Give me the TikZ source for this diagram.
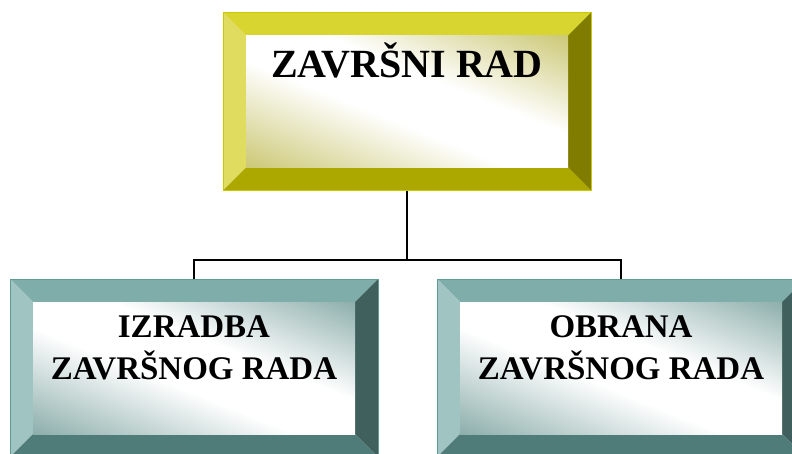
\documentclass[tikz,border=0pt]{standalone}
\usepackage{fontspec}
\setmainfont{Liberation Serif}
\usepackage{tikz}
\usetikzlibrary{positioning,calc}
\definecolor{olivetop}{HTML}{D9D530}
\definecolor{oliveleft}{HTML}{E0DC60}
\definecolor{oliveright}{HTML}{807C00}
\definecolor{olivebottom}{HTML}{ADA800}
\definecolor{oliveline}{HTML}{CCC800}
\definecolor{olivecorner}{HTML}{C9C56E}
\definecolor{tealtop}{HTML}{7FADA9}
\definecolor{tealleft}{HTML}{A0C4C1}
\definecolor{tealright}{HTML}{3F605C}
\definecolor{tealbottom}{HTML}{4F7C78}
\definecolor{tealline}{HTML}{5F9A95}
\definecolor{tealcorner}{HTML}{86AAA7}

% sheen of the inner faces: broad white band, coloured corners
\pgfdeclareverticalshading{olivesheen}{100bp}{color(0bp)=(olivecorner); color(16bp)=(olivecorner);
  color(44bp)=(white); color(58bp)=(white); color(84bp)=(olivecorner); color(100bp)=(olivecorner)}
\pgfdeclareverticalshading{tealsheen}{100bp}{color(0bp)=(tealcorner); color(16bp)=(tealcorner);
  color(44bp)=(white); color(58bp)=(white); color(84bp)=(tealcorner); color(100bp)=(tealcorner)}

\tikzset{
  bevelbox/.style n args={6}{
    draw=#1, line width=0.8pt, minimum width=368pt, minimum height=178pt,
    inner sep=0pt, align=center,
    path picture={
      \coordinate (nw) at (path picture bounding box.north west);
      \coordinate (ne) at (path picture bounding box.north east);
      \coordinate (sw) at (path picture bounding box.south west);
      \coordinate (se) at (path picture bounding box.south east);
      \fill[#2] (nw) -- (ne) -- ($(ne)+(-23pt,-23pt)$) -- ($(nw)+(23pt,-23pt)$) -- cycle;
      \fill[#3] (nw) -- (sw) -- ($(sw)+(23pt,23pt)$) -- ($(nw)+(23pt,-23pt)$) -- cycle;
      \fill[#4] (ne) -- (se) -- ($(se)+(-23pt,23pt)$) -- ($(ne)+(-23pt,-23pt)$) -- cycle;
      \fill[#5] (sw) -- (se) -- ($(se)+(-23pt,23pt)$) -- ($(sw)+(23pt,23pt)$) -- cycle;
      \shade[shading=#6, shading angle=-22]
        ($(nw)+(23pt,-23pt)$) rectangle ($(se)+(-23pt,23pt)$);
    }},
  topbox/.style={bevelbox={oliveline}{olivetop}{oliveleft}{oliveright}{olivebottom}{olivesheen},
    font=\bfseries\fontsize{40}{42}\selectfont, text height=30pt, text depth=78pt},
  subbox/.style={bevelbox={tealline}{tealtop}{tealleft}{tealright}{tealbottom}{tealsheen},
    font=\bfseries\fontsize{33}{42}\selectfont, text height=40pt, text depth=18pt},
  link/.style={black, line width=1.6pt}
}

\begin{document}
\begin{tikzpicture}[x=1pt, y=-1pt]
  \useasboundingbox (0,0) rectangle (792,453);
  \node[topbox] (zavrsni) at (407,101.5) {ZAVRŠNI RAD};
  \node[subbox] (izradba) at (194,368) {IZRADBA\\ZAVRŠNOG RADA};
  \node[subbox] (obrana) at (621,368) {OBRANA\\ZAVRŠNOG RADA};
  \draw[link] (zavrsni.south) -- ++(0,69) coordinate (bus);
  \draw[link] (izradba.north) |- (bus) -| (obrana.north);
\end{tikzpicture}
\end{document}
